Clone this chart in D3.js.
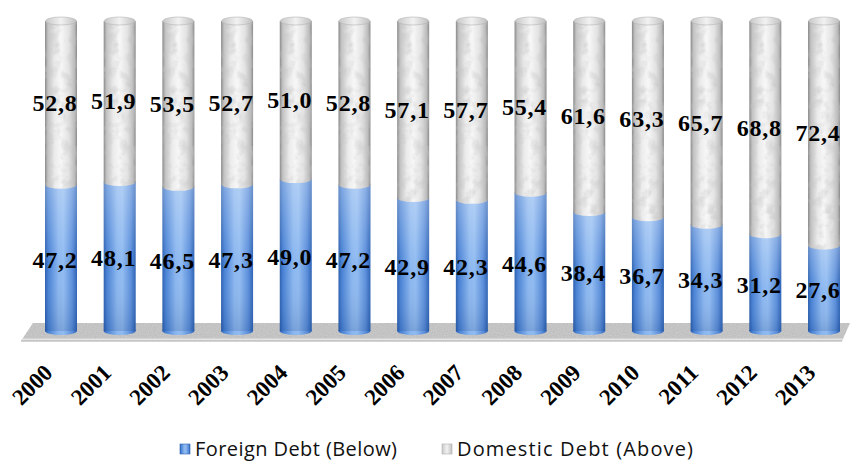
<!DOCTYPE html>
<html>
<head>
    <meta charset="utf-8">
    <title>Foreign and Domestic Debt</title>
    <script src="https://d3js.org/d3.v7.min.js"></script>
    <style>
        html, body { margin: 0; padding: 0; background: #fff; }
    </style>
</head>
<body>
<div id="chart"></div>
<script>
    // Data (share of total debt, %)
    const years = ["2000", "2001", "2002", "2003", "2004", "2005", "2006",
        "2007", "2008", "2009", "2010", "2011", "2012", "2013"];
    const foreignDebt = [47.2, 48.1, 46.5, 47.3, 49.0, 47.2, 42.9, 42.3, 44.6, 38.4, 36.7, 34.3, 31.2, 27.6];
    const domesticDebt = [52.8, 51.9, 53.5, 52.7, 51.0, 52.8, 57.1, 57.7, 55.4, 61.6, 63.3, 65.7, 68.8, 72.4];
    const legendLabels = ["Foreign Debt (Below)", "Domestic Debt (Above)"];

    const width = 852, height = 469;
    const barW = 32, ry = 4;

    const svg = d3.select("#chart").append("svg")
        .attr("width", width)
        .attr("height", height);

    const x = d3.scalePoint().domain(years).range([61, 824]);
    const y = d3.scaleLinear().domain([0, 100]).range([331, 21]);

    const fmt = v => d3.format(".1f")(v).replace(".", ",");

    // ---- gradients and texture
    const defs = svg.append("defs");

    const blue = defs.append("linearGradient").attr("id", "blueGrad");
    [["0%", "#2a5ead"], ["10%", "#4680d4"], ["42%", "#8ab6ef"], ["58%", "#90bbf1"],
     ["85%", "#5a8edb"], ["100%", "#2c62b4"]].forEach(([o, c]) =>
        blue.append("stop").attr("offset", o).attr("stop-color", c));

    const shade = defs.append("linearGradient").attr("id", "blueShade")
        .attr("x1", 0).attr("y1", 0).attr("x2", 0).attr("y2", 1);
    shade.append("stop").attr("offset", "0%").attr("stop-color", "#fff").attr("stop-opacity", 0.3);
    shade.append("stop").attr("offset", "55%").attr("stop-color", "#fff").attr("stop-opacity", 0);
    shade.append("stop").attr("offset", "100%").attr("stop-color", "#00205a").attr("stop-opacity", 0.15);

    const grey = defs.append("linearGradient").attr("id", "greyGrad");
    [["0%", "#8a8a8a"], ["9%", "#c2c2c2"], ["30%", "#ebebeb"], ["50%", "#f7f7f7"],
     ["75%", "#e2e2e2"], ["92%", "#bcbcbc"], ["100%", "#8a8a8a"]].forEach(([o, c]) =>
        grey.append("stop").attr("offset", o).attr("stop-color", c));

    const capG = defs.append("linearGradient").attr("id", "capGrad");
    [["0%", "#c8c8c8"], ["50%", "#f2f2f2"], ["100%", "#c0c0c0"]].forEach(([o, c]) =>
        capG.append("stop").attr("offset", o).attr("stop-color", c));

    // mottled texture for the grey part
    const mottle = defs.append("filter").attr("id", "mottle")
        .attr("x", 0).attr("y", 0).attr("width", 1).attr("height", 1);
    mottle.append("feTurbulence").attr("type", "fractalNoise")
        .attr("baseFrequency", 0.09).attr("numOctaves", 3).attr("seed", 4).attr("result", "noise");
    mottle.append("feColorMatrix").attr("in", "noise").attr("type", "matrix")
        .attr("values", "0 0 0 0 0.55  0 0 0 0 0.55  0 0 0 0 0.55  1.6 0 0 0 -0.72")
        .attr("result", "spots");
    mottle.append("feComposite").attr("in", "spots").attr("in2", "SourceGraphic")
        .attr("operator", "in").attr("result", "clipped");
    const merge = mottle.append("feMerge");
    merge.append("feMergeNode").attr("in", "SourceGraphic");
    merge.append("feMergeNode").attr("in", "clipped");

    const floorTex = defs.append("filter").attr("id", "floorTex")
        .attr("x", 0).attr("y", 0).attr("width", 1).attr("height", 1);
    floorTex.append("feTurbulence").attr("type", "fractalNoise")
        .attr("baseFrequency", 0.9).attr("numOctaves", 1).attr("result", "noise");
    floorTex.append("feColorMatrix").attr("in", "noise").attr("type", "matrix")
        .attr("values", "0 0 0 0 0.45  0 0 0 0 0.45  0 0 0 0 0.45  1.4 0 0 0 -0.45")
        .attr("result", "spots");
    floorTex.append("feComposite").attr("in", "spots").attr("in2", "SourceGraphic")
        .attr("operator", "in").attr("result", "clipped");
    const fm = floorTex.append("feMerge");
    fm.append("feMergeNode").attr("in", "SourceGraphic");
    fm.append("feMergeNode").attr("in", "clipped");

    // ---- floor
    const fTop = y(0) - 8, fBot = y(0) + 10;
    const fL = x.range()[0] - 40, fR = x.range()[1] + 26;
    svg.append("path")
        .attr("d", `M${fL + 12},${fTop} L${fR},${fTop} L${fR - 8},${fBot} L${fL},${fBot} Z`)
        .attr("fill", "#c9c9c9")
        .attr("filter", "url(#floorTex)");
    svg.append("path")
        .attr("d", `M${fL},${fBot} L${fR - 8},${fBot} L${fR - 6},${fBot - 2.5} L${fL + 2},${fBot - 2.5} Z`)
        .attr("fill", "#e4e4e4");
    svg.append("line")
        .attr("x1", fL).attr("x2", fR - 8).attr("y1", fBot).attr("y2", fBot)
        .attr("stroke", "#a8a8a8").attr("stroke-width", 1);

    // ---- cylinders
    const bars = svg.append("g").selectAll("g")
        .data(years.map((yr, i) => ({ year: yr, f: foreignDebt[i], d: domesticDebt[i] })))
        .join("g")
        .attr("transform", d => `translate(${x(d.year)},0)`);

    // foreign (bottom) part
    bars.append("rect")
        .attr("x", -barW / 2).attr("width", barW)
        .attr("y", d => y(d.f)).attr("height", d => y(0) - y(d.f))
        .attr("fill", "url(#blueGrad)");
    bars.append("ellipse")
        .attr("cx", 0).attr("cy", y(0)).attr("rx", barW / 2).attr("ry", ry)
        .attr("fill", "url(#blueGrad)");
    bars.append("rect")
        .attr("x", -barW / 2).attr("width", barW)
        .attr("y", d => y(d.f)).attr("height", d => y(0) - y(d.f))
        .attr("fill", "url(#blueShade)");

    // domestic (top) part
    const upper = bars.append("g").attr("filter", "url(#mottle)");
    upper.append("rect")
        .attr("x", -barW / 2).attr("width", barW)
        .attr("y", y(100)).attr("height", d => y(d.f) - y(100))
        .attr("fill", "url(#greyGrad)");
    upper.append("ellipse")
        .attr("cx", 0).attr("cy", d => y(d.f)).attr("rx", barW / 2).attr("ry", ry)
        .attr("fill", "url(#greyGrad)");
    bars.append("ellipse")
        .attr("cx", 0).attr("cy", y(100)).attr("rx", barW / 2 - 0.5).attr("ry", ry)
        .attr("fill", "url(#capGrad)")
        .attr("stroke", "#b4b4b4").attr("stroke-width", 0.6);

    // value labels
    const labelStyle = sel => sel
        .attr("x", -6)
        .attr("text-anchor", "middle")
        .attr("dominant-baseline", "central")
        .attr("font-family", "'Liberation Serif', 'Times New Roman', serif")
        .attr("font-weight", "bold")
        .attr("font-size", 24)
        .attr("letter-spacing", 0.8)
        .attr("fill", "#000");
    bars.append("text").call(labelStyle)
        .attr("y", d => y(d.f / 2) + 2)
        .text(d => fmt(d.f));
    bars.append("text").call(labelStyle)
        .attr("y", d => y(d.f + d.d / 2))
        .text(d => fmt(d.d));

    // ---- x axis labels (rotated)
    svg.append("g").selectAll("text")
        .data(years)
        .join("text")
        .attr("transform", d => `translate(${x(d) - 7},${y(0) + 43}) rotate(-45)`)
        .attr("text-anchor", "end")
        .attr("font-family", "'Liberation Serif', 'Times New Roman', serif")
        .attr("font-weight", "bold")
        .attr("font-size", 23)
        .attr("fill", "#000")
        .text(d => d);

    // ---- legend
    const legend = svg.append("g").attr("transform", "translate(180,456)");
    const items = [
        { label: legendLabels[0], fill: "url(#blueGrad)", stroke: "#2c62b4", dx: 0, len: 202 },
        { label: legendLabels[1], fill: "url(#capGrad)", stroke: "#b0b0b0", dx: 262, len: 236 }
    ];
    items.forEach(it => {
        const g = legend.append("g").attr("transform", `translate(${it.dx},0)`);
        g.append("rect")
            .attr("x", 0).attr("y", -12).attr("width", 10).attr("height", 10)
            .attr("fill", it.fill).attr("stroke", it.stroke).attr("stroke-width", 0.6);
        g.append("text")
            .attr("x", 15).attr("y", 0)
            .attr("font-family", "'Open Sans', 'Noto Sans', sans-serif")
            .attr("font-size", 20)
            .attr("textLength", it.len)
            .attr("lengthAdjust", "spacing")
            .attr("fill", "#111")
            .text(it.label);
    });
</script>
</body>
</html>
